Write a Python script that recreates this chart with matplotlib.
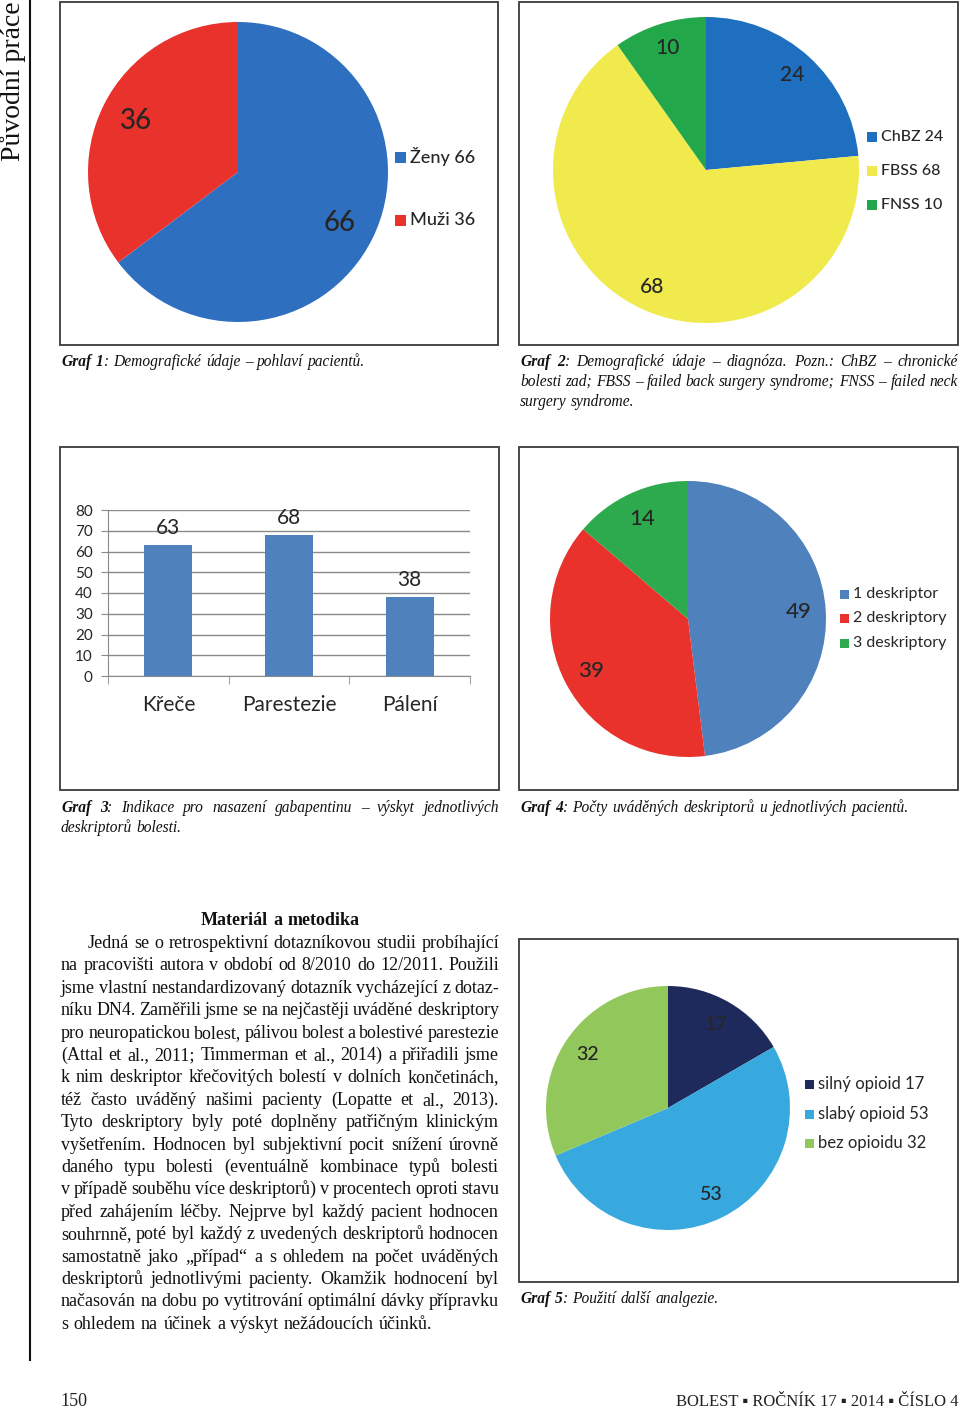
import numpy as np
import matplotlib
matplotlib.use('Agg')
import matplotlib.pyplot as plt
from matplotlib.patches import Rectangle

W, H = 960, 1408
SANS = ['Lato', 'DejaVu Sans']
SERIF = ['Liberation Serif', 'DejaVu Serif']
INK = '#262626'

# Graf 1 - pohlavi
gender_labels = ['Ženy', 'Muži']
gender_values = [66, 36]
gender_colors = ['#2f6fc0', '#e8322b']

# Graf 2 - diagnoza
diag_labels = ['ChBZ', 'FBSS', 'FNSS']
diag_values = [24, 68, 10]
diag_colors = ['#1f6fc0', '#f0ea4c', '#22a84b']

# Graf 3 - deskriptory bolesti
desc_labels = ['Křeče', 'Parestezie', 'Pálení']
desc_values = [63, 68, 38]
desc_yticks = [0, 10, 20, 30, 40, 50, 60, 70, 80]

# Graf 4 - pocet deskriptoru
count_labels = ['1 deskriptor', '2 deskriptory', '3 deskriptory']
count_values = [49, 39, 14]
count_colors = ['#4f81bd', '#e8322b', '#2eaa4e']

# Graf 5 - analgezie
anal_labels = ['silný opioid', 'slabý opioid', 'bez opioidu']
anal_values = [17, 53, 32]
anal_colors = ['#1f2a5c', '#38a9df', '#92c85b']

captions = {
    1: ["*Graf 1*: Demografické údaje – pohlaví pacientů."],
    2: ["*Graf 2*: Demografické údaje – diagnóza. Pozn.: ChBZ – chronické",
        "bolesti zad; FBSS – failed back surgery syndrome; FNSS – failed neck",
        "surgery syndrome."],
    3: ["*Graf 3*: Indikace pro nasazení gabapentinu – výskyt jednotlivých",
        "deskriptorů bolesti."],
    4: ["*Graf 4*: Počty uváděných deskriptorů u jednotlivých pacientů."],
    5: ["*Graf 5*: Použití další analgezie."],
}

heading = "*Materiál a metodika*"
body = [
    "Jedná se o retrospektivní dotazníkovou studii probíhající",
    "na pracovišti autora v období od 8/2010 do 12/2011. Použili",
    "jsme vlastní nestandardizovaný dotazník vycházející z dotaz-",
    "níku DN4. Zaměřili jsme se na nejčastěji uváděné deskriptory",
    "pro neuropatickou bolest, pálivou bolest a bolestivé parestezie",
    "(Attal et al., 2011; Timmerman et al., 2014) a přiřadili jsme",
    "k nim deskriptor křečovitých bolestí v dolních končetinách,",
    "též často uváděný našimi pacienty (Lopatte et al., 2013).",
    "Tyto deskriptory byly poté doplněny patřičným klinickým",
    "vyšetřením. Hodnocen byl subjektivní pocit snížení úrovně",
    "daného typu bolesti (eventuálně kombinace typů bolesti",
    "v případě souběhu více deskriptorů) v procentech oproti stavu",
    "před zahájením léčby. Nejprve byl každý pacient hodnocen",
    "souhrnně, poté byl každý z uvedených deskriptorů hodnocen",
    "samostatně jako „případ“ a s ohledem na počet uváděných",
    "deskriptorů jednotlivými pacienty. Okamžik hodnocení byl",
    "načasován na dobu po vytitrování optimální dávky přípravku",
    "s ohledem na účinek a výskyt nežádoucích účinků.",
]

fig = plt.figure(figsize=(W / 100, H / 100), dpi=100)
page = fig.add_axes([0, 0, 1, 1], zorder=0)
page.set_xlim(0, W)
page.set_ylim(H, 0)
page.axis('off')
renderer = fig.canvas.get_renderer()


def px_axes(x0, y0, x1, y1):
    return fig.add_axes([x0 / W, 1 - y1 / H, (x1 - x0) / W, (y1 - y0) / H], zorder=2)


def box(x0, y0, x1, y1):
    page.add_patch(Rectangle((x0, y0), x1 - x0, y1 - y0, fill=False,
                             ec='#3a3a3a', lw=1.3, zorder=1))


def pie(cx, cy, r, values, colors, fs, dist):
    ax = px_axes(cx - r, cy - r, cx + r, cy + r)
    total = sum(values)
    ax.pie(values, colors=colors, startangle=90, counterclock=False,
           autopct=lambda p: f'{p * total / 100:.0f}', pctdistance=dist,
           textprops=dict(fontsize=fs, family=SANS, color=INK, weight='medium'))
    ax.set_xlim(-1, 1)
    ax.set_ylim(-1, 1)
    ax.patch.set_visible(False)
    return ax


def legend(x, ys, texts, colors, fs, sq, weight='normal'):
    for y, t, c in zip(ys, texts, colors):
        page.add_patch(Rectangle((x, y - sq / 2), sq, sq, color=c, lw=0))
        page.text(x + sq + 4, y, t, fontsize=fs, family=SANS, color=INK,
                  ha='left', va='center', weight=weight)


def parse(line):
    words = []
    bold = False
    for w in line.split(' '):
        runs, cur = [], ''
        for ch in w:
            if ch == '*':
                if cur:
                    runs.append((cur, bold))
                cur = ''
                bold = not bold
            else:
                cur += ch
        if cur:
            runs.append((cur, bold))
        words.append(runs)
    return words


def measure(words, y, fs, style):
    items, widths = [], []
    for runs in words:
        placed, ww = [], 0
        for txt, b in runs:
            t = page.text(0, y, txt, fontsize=fs, family=SERIF, style=style,
                          weight='bold' if b else 'normal', color='#111111',
                          ha='left', va='baseline')
            bw = t.get_window_extent(renderer).width
            placed.append((t, bw))
            ww += bw
        items.append(placed)
        widths.append(ww)
    return items, widths


def draw_line(line, x0, x1, y, fs, style='normal', justify=True, center=False,
              min_gap=3.5):
    words = parse(line)
    items, widths = measure(words, y, fs, style)
    n = len(words)
    if justify and n > 1 and (x1 - x0 - sum(widths)) / (n - 1) < min_gap:
        # too tight: shrink this line a little
        for placed in items:
            for t, _ in placed:
                t.remove()
        fs = fs * (x1 - x0 - min_gap * (n - 1)) / sum(widths)
        items, widths = measure(words, y, fs, style)
    space = 0.3 * fs * 100 / 72
    if justify and n > 1:
        gap = (x1 - x0 - sum(widths)) / (n - 1)
    else:
        gap = space
    x = x0
    if center:
        x = (x0 + x1) / 2 - (sum(widths) + gap * (n - 1)) / 2
    for placed in items:
        for t, bw in placed:
            t.set_x(x)
            x += bw
        x += gap


def paragraph(lines, x0, x1, y0, dy, fs, style='normal', indent=0):
    for i, ln in enumerate(lines):
        last = i == len(lines) - 1
        draw_line(ln, x0 + (indent if i == 0 else 0), x1, y0 + i * dy, fs,
                  style=style, justify=not last)


# page furniture
page.plot([30, 30], [0, 1360], color='#111111', lw=1.5)
page.text(13, 1, 'Původní práce', rotation=90, fontsize=20, family=SERIF,
          color='#111111', ha='center', va='top')
page.text(60, 1406, '150', fontsize=13, family=SERIF, color='#222222',
          ha='left', va='baseline')
page.text(958, 1406, 'BOLEST ▪ ROČNÍK 17 ▪ 2014 ▪ ČÍSLO 4', fontsize=12,
          family=SERIF, color='#222222', ha='right', va='baseline')

box(60, 2, 498, 345)
box(519, 2, 958, 345)
box(60, 447, 499, 790)
box(519, 447, 958, 790)
box(519, 939, 958, 1282)

# Graf 1
pie(238, 172, 150, gender_values, gender_colors, 20, 0.76)
legend(395, [157, 220], [f'{l} {v}' for l, v in zip(gender_labels, gender_values)],
       gender_colors, 13, 11, weight='medium')

# Graf 2
pie(706, 170, 153, diag_values, diag_colors, 15, 0.84)
legend(867, [137, 171, 205], [f'{l} {v}' for l, v in zip(diag_labels, diag_values)],
       diag_colors, 11.5, 10, weight='medium')

# Graf 3
ax3 = px_axes(108, 510, 470, 676)
xs = np.arange(len(desc_values))
bars = ax3.bar(xs, desc_values, width=0.4, color='#4f81bd', zorder=3)
ax3.bar_label(bars, labels=[str(v) for v in desc_values], padding=5,
              fontsize=15, family=SANS, color=INK)
ax3.set_xlim(-0.5, len(desc_values) - 0.5)
ax3.set_ylim(0, 80)
ax3.set_yticks(desc_yticks)
ax3.set_yticklabels([str(v) for v in desc_yticks], fontsize=11, family=SANS, color=INK)
ax3.set_xticks(xs)
ax3.set_xticklabels(desc_labels, fontsize=15, family=SANS, color=INK)
ax3.set_xticks(np.arange(-0.5, len(desc_values), 1.0), minor=True)
ax3.tick_params(axis='x', which='major', length=0, pad=14)
ax3.tick_params(axis='x', which='minor', length=6, color='#8a8a8a', direction='out')
ax3.tick_params(axis='y', length=5, color='#8a8a8a', pad=6)
ax3.grid(axis='y', color='#8a8a8a', lw=1, zorder=0)
for s in ['top', 'right']:
    ax3.spines[s].set_visible(False)
ax3.spines['left'].set_color('#8a8a8a')
ax3.spines['bottom'].set_color('#8a8a8a')
ax3.patch.set_visible(False)

# Graf 4
pie(688, 619, 138, count_values, count_colors, 16, 0.8)
legend(840, [594, 618, 643], count_labels, count_colors, 11.5, 9)

# Graf 5
pie(668, 1108, 122, anal_values, anal_colors, 14, 0.79)
legend(805, [1084, 1114, 1143],
       [f'{l} {v}' for l, v in zip(anal_labels, anal_values)],
       anal_colors, 12, 9)

# captions
cap_fs = 11.2
paragraph(captions[1], 61, 498, 366, 20, cap_fs, style='italic')
paragraph(captions[2], 520, 958, 366, 20, cap_fs, style='italic')
paragraph(captions[3], 61, 499, 812, 20, cap_fs, style='italic')
paragraph(captions[4], 520, 958, 812, 20, cap_fs, style='italic')
paragraph(captions[5], 520, 958, 1303, 20, cap_fs, style='italic')

# body text
draw_line(heading, 61, 499, 925, 13, justify=False, center=True)
paragraph(body, 61, 499, 948, 22.4, 13, indent=27)

fig.savefig('out.png', dpi=100)
